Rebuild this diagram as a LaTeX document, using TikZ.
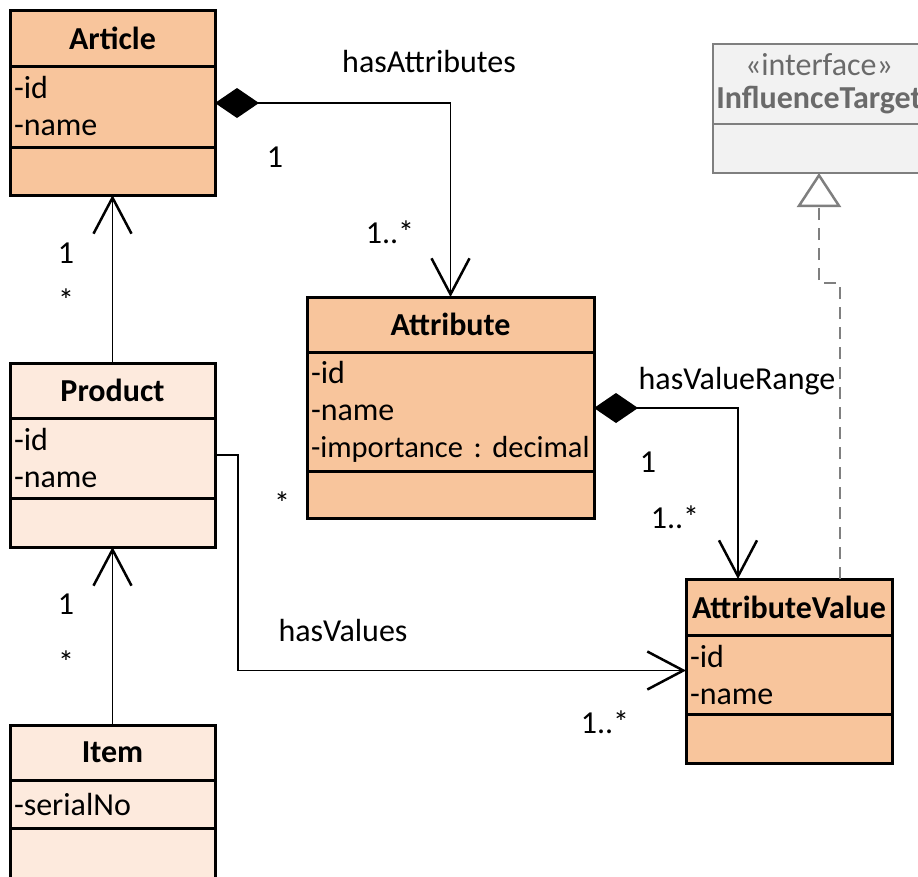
\documentclass[tikz,border=0pt]{standalone}
\usepackage{fontspec}
\setmainfont{Carlito}
\usetikzlibrary{arrows.meta}
\usetikzlibrary{positioning}

\definecolor{darkpeach}{HTML}{F8C59C}
\definecolor{lightpeach}{HTML}{FDEADD}
\definecolor{ifline}{HTML}{7F7F7F}
\definecolor{iftext}{HTML}{6A6A6A}
\definecolor{iffill}{HTML}{F2F2F2}
\newcommand{\umlfont}{\fontsize{32}{37}\selectfont\frenchspacing}

\begin{document}
\begin{tikzpicture}[x=1pt,y=-1pt,
  ctitle/.style={draw,line width=3pt,outer sep=0pt,anchor=north west,inner sep=0pt,align=center,font=\umlfont\bfseries},
  cattrs/.style={draw,line width=3pt,outer sep=0pt,anchor=north west,inner xsep=4pt,inner ysep=0pt,align=left,font=\umlfont},
  lbl/.style={font=\umlfont,inner sep=0pt},
  assoc/.style={line width=1.5pt,-{Straight Barb[length=36pt,width=38pt,line width=2.5pt]}},
  comp/.style={line width=1.5pt,{Diamond[length=44pt,width=30pt]}-{Straight Barb[length=36pt,width=38pt,line width=2.5pt]}},
  realize/.style={line width=1.5pt,draw=ifline,dash pattern=on 12pt off 8pt,-{Triangle[length=34pt,width=44pt,fill=white,line width=2.5pt]}}]
\clip (0,0) rectangle (918,876);

% classes
\node[ctitle,fill=darkpeach,minimum width=205pt,minimum height=56pt] (article) at (10,10) {Article};
\node[cattrs,fill=darkpeach,text width=197pt,minimum height=81pt] (article-a) at (article.south west) {-id\\-name};
\node[ctitle,fill=darkpeach,minimum width=205pt,minimum height=48pt] (article-m) at (article-a.south west) {};

\node[ctitle,fill=lightpeach,minimum width=205pt,minimum height=55pt] (product) at (10,363) {Product};
\node[cattrs,fill=lightpeach,text width=197pt,minimum height=80pt] (product-a) at (product.south west) {-id\\-name};
\node[ctitle,fill=lightpeach,minimum width=205pt,minimum height=49pt] (product-m) at (product-a.south west) {};

\node[ctitle,fill=lightpeach,minimum width=205pt,minimum height=55pt] (item) at (10,725) {Item};
\node[cattrs,fill=lightpeach,text width=197pt,minimum height=48pt] (item-a) at (item.south west) {-serialNo};
\node[ctitle,fill=lightpeach,minimum width=205pt,minimum height=60pt] (item-m) at (item-a.south west) {};

\node[ctitle,fill=darkpeach,minimum width=287pt,minimum height=55pt] (attribute) at (307,297) {Attribute};
\node[cattrs,fill=darkpeach,text width=279pt,minimum height=119pt] (attribute-a) at (attribute.south west) {-id\\-name\\\mbox{\fontsize{30.5}{37}\selectfont-importance : decimal}};
\node[ctitle,fill=darkpeach,minimum width=287pt,minimum height=47pt] (attribute-m) at (attribute-a.south west) {};

\node[ctitle,fill=darkpeach,minimum width=206pt,minimum height=56pt] (av) at (686,579) {AttributeValue};
\node[cattrs,fill=darkpeach,text width=198pt,minimum height=79pt] (av-a) at (av.south west) {-id\\-name};
\node[ctitle,fill=darkpeach,minimum width=206pt,minimum height=49pt] (av-m) at (av-a.south west) {};

\node[ctitle,draw=ifline,text=iftext,fill=iffill,line width=2pt,minimum width=212pt,minimum height=80pt,font=\fontsize{32}{33}\selectfont\bfseries] (iface) at (713,44) {{\mdseries«interface»}\\InfluenceTarget};
\node[ctitle,draw=ifline,fill=iffill,line width=2pt,minimum width=212pt,minimum height=49pt] (iface-m) at (iface.south west) {};

% connectors
\draw[comp] ([yshift=3.5pt]article-a.east) -| (attribute.north);
\draw[assoc] (product.north) -- (article-m.south);
\draw[assoc] (item.north) -- (product-m.south);
\draw[assoc] ([yshift=3pt]product-a.east) -- ++(23,0) |- ([yshift=4pt]av-a.west);
\draw[comp] ([yshift=3.5pt]attribute-a.east) -| ([xshift=-51pt]av.north);
\draw[realize] ([xshift=51pt]av.north) -- ++(0,-296) -| (iface-m.south);

% labels
\node[lbl] (l-hasattr) at (429,62) {hasAttributes};
\node[lbl] (l-art1) at (275,157) {1};
\node[lbl] (l-attrmany) at (390,232) {1..*};
\node[lbl] (l-prod1) at (66,253) {1};
\node[lbl] (l-prodstar) at (66,300) {*};
\node[lbl] (l-item1) at (66,604) {1};
\node[lbl] (l-itemstar) at (66,662) {*};
\node[lbl] (l-hasrange) at (737,381) {hasValueRange};
\node[lbl] (l-range1) at (648,462) {1};
\node[lbl] (l-rangemany) at (675,517) {1..*};
\node[lbl] (l-valstar) at (282,503) {*};
\node[lbl] (l-hasval) at (343,630) {hasValues};
\node[lbl] (l-valmany) at (605,722) {1..*};
\end{tikzpicture}
\end{document}
